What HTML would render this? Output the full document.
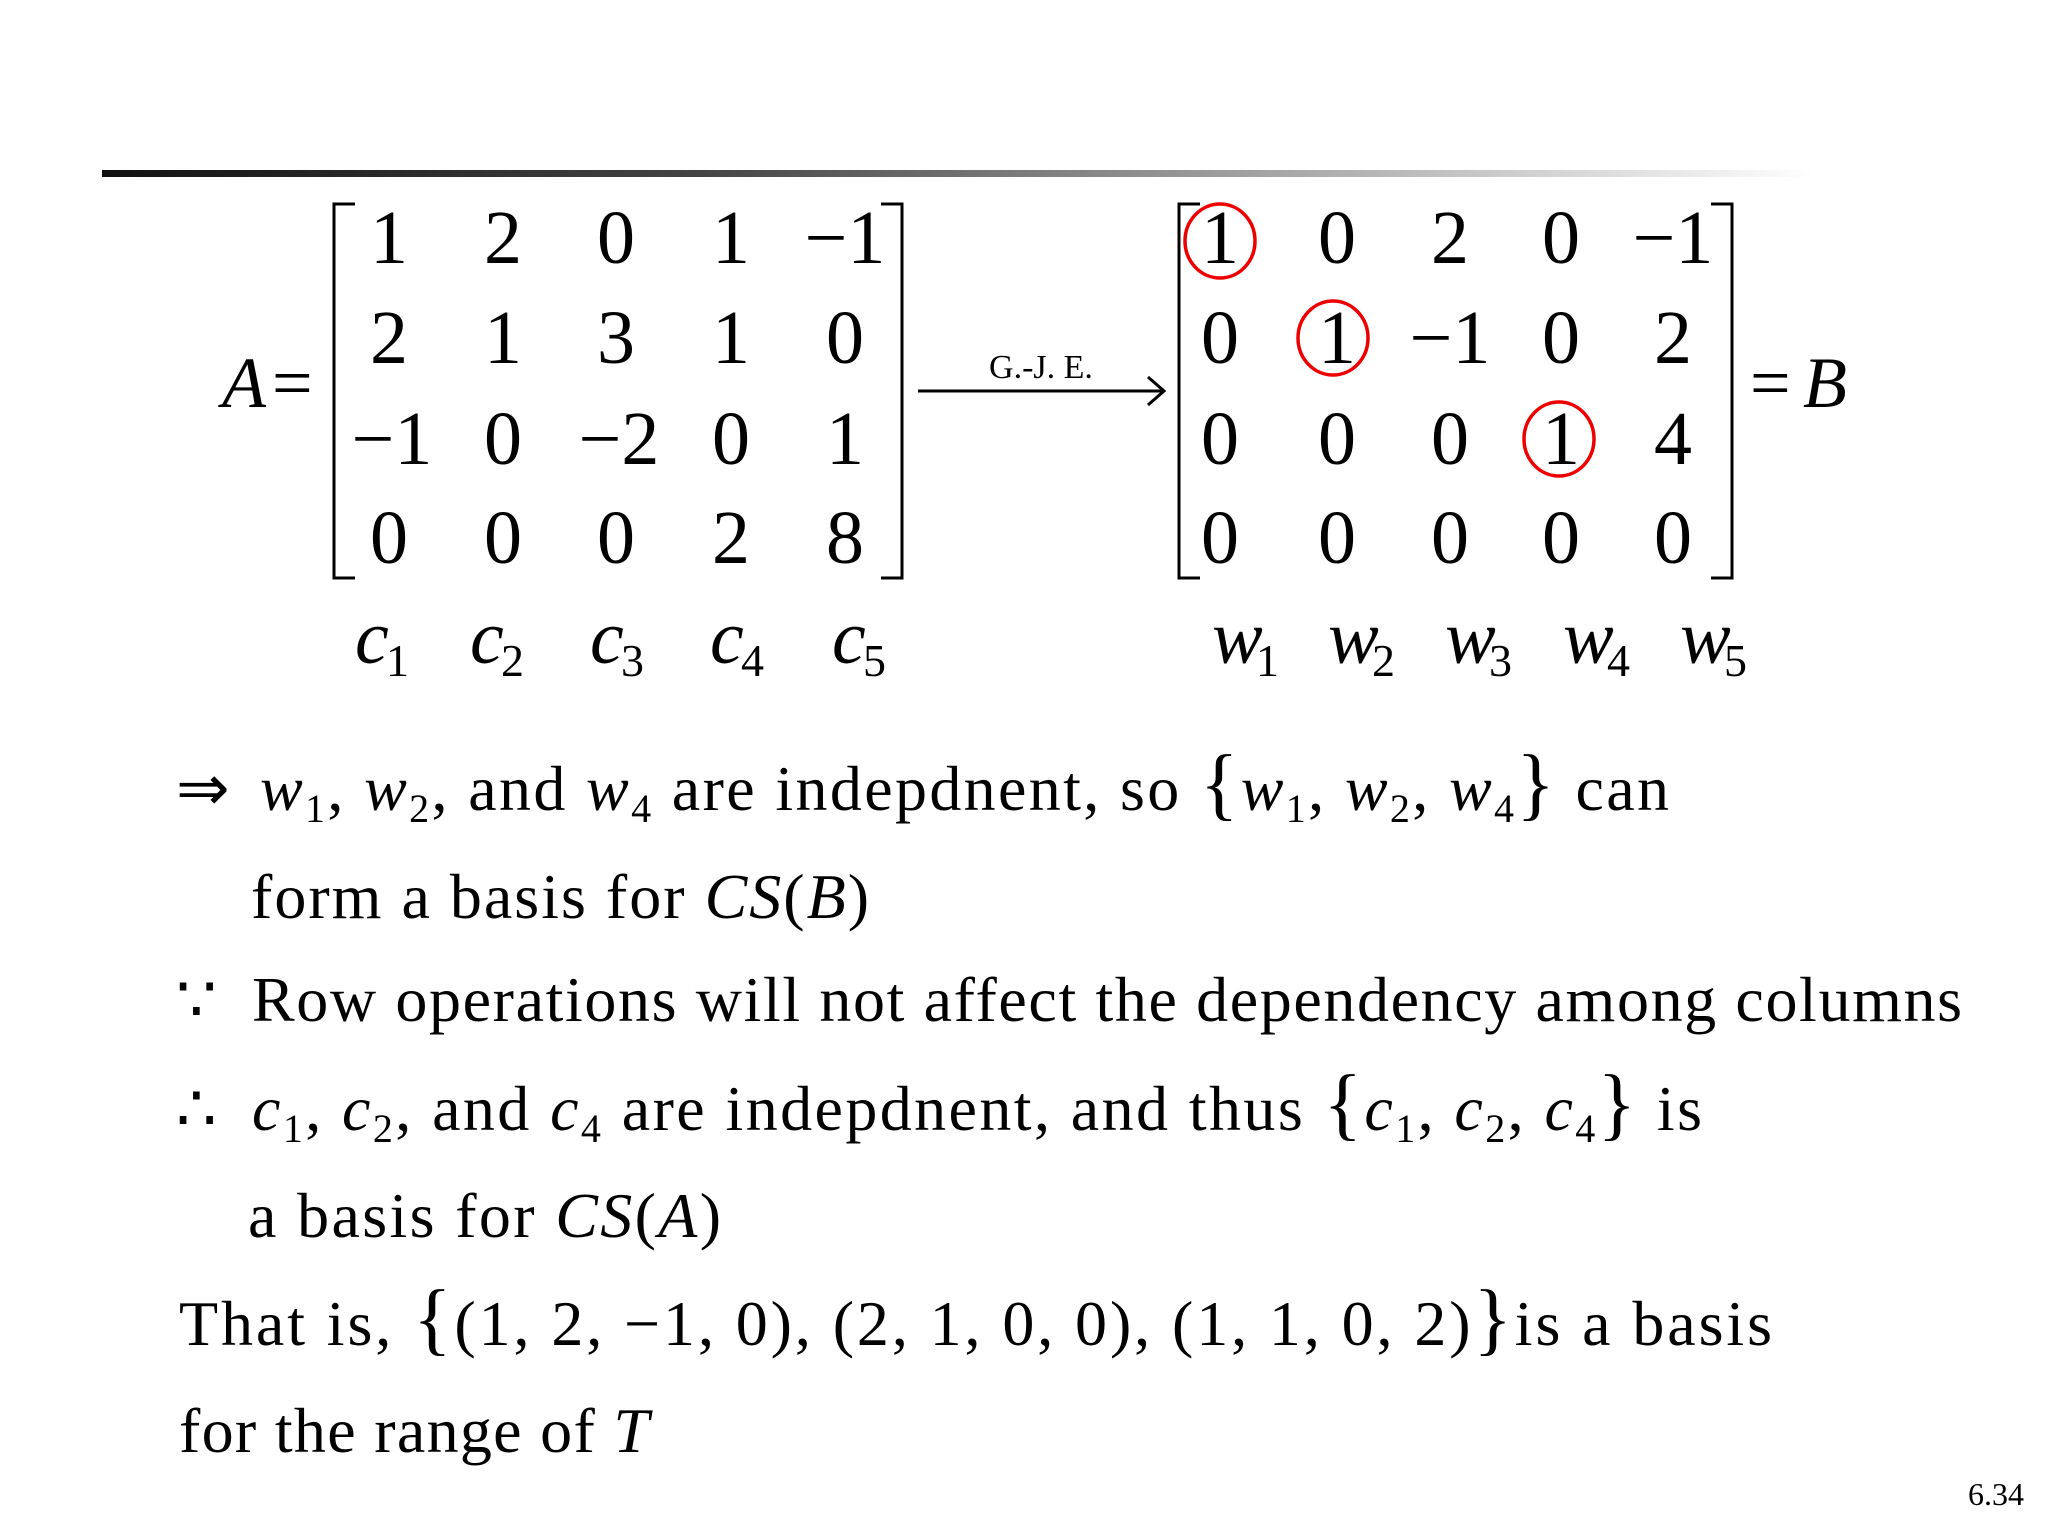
<!DOCTYPE html>
<html><head><meta charset="utf-8"><style>
html,body{margin:0;padding:0;background:#fff;}
svg{display:block;}
text{font-family:"Liberation Serif","Times New Roman",serif;fill:#000;}
.i{font-style:italic;}
</style></head><body>
<svg width="2048" height="1536" viewBox="0 0 2048 1536" xmlns="http://www.w3.org/2000/svg" font-family="Liberation Serif, Times New Roman, serif">
<defs>
<linearGradient id="g" x1="0" x2="1" y1="0" y2="0">
<stop offset="0" stop-color="#111"/><stop offset="0.35" stop-color="#444"/><stop offset="0.7" stop-color="#aaa"/><stop offset="1" stop-color="#fff"/>
</linearGradient>
</defs>
<rect x="102" y="170" width="1713" height="7" fill="url(#g)"/>

<text x="222" y="407" font-size="72" class="i">A</text>
<text x="272" y="407" font-size="72">=</text>
<path d="M355 204 H334 V578 H355" fill="none" stroke="#000" stroke-width="3"/>
<path d="M881 204 H902 V578 H881" fill="none" stroke="#000" stroke-width="3"/>
<g font-size="76" text-anchor="middle">
<text x="389" y="263">1</text><text x="503" y="263">2</text><text x="616" y="263">0</text><text x="731" y="263">1</text><text x="845" y="263">−1</text>
<text x="389" y="363">2</text><text x="503" y="363">1</text><text x="616" y="363">3</text><text x="731" y="363">1</text><text x="845" y="363">0</text>
<text x="392" y="464">−1</text><text x="503" y="464">0</text><text x="619" y="464">−2</text><text x="731" y="464">0</text><text x="845" y="464">1</text>
<text x="389" y="563">0</text><text x="503" y="563">0</text><text x="616" y="563">0</text><text x="731" y="563">2</text><text x="845" y="563">8</text>
</g>
<g font-size="76">
<text x="355" y="663" class="i">c</text><text x="386" y="676" font-size="46">1</text>
<text x="470" y="663" class="i">c</text><text x="501" y="676" font-size="46">2</text>
<text x="590" y="663" class="i">c</text><text x="621" y="676" font-size="46">3</text>
<text x="710" y="663" class="i">c</text><text x="741" y="676" font-size="46">4</text>
<text x="832" y="663" class="i">c</text><text x="863" y="676" font-size="46">5</text>
</g>

<line x1="918" y1="391" x2="1162" y2="391" stroke="#000" stroke-width="3"/>
<path d="M1148 377 L1164 391 L1148 405" fill="none" stroke="#000" stroke-width="3"/>
<text x="1041" y="378" font-size="34" text-anchor="middle">G.-J. E.</text>

<path d="M1200 204 H1179 V578 H1200" fill="none" stroke="#000" stroke-width="3"/>
<path d="M1711 204 H1732 V578 H1711" fill="none" stroke="#000" stroke-width="3"/>
<g font-size="76" text-anchor="middle">
<text x="1220" y="263">1</text><text x="1337" y="263">0</text><text x="1450" y="263">2</text><text x="1561" y="263">0</text><text x="1673" y="263">−1</text>
<text x="1220" y="363">0</text><text x="1337" y="363">1</text><text x="1450" y="363">−1</text><text x="1561" y="363">0</text><text x="1673" y="363">2</text>
<text x="1220" y="464">0</text><text x="1337" y="464">0</text><text x="1450" y="464">0</text><text x="1561" y="464">1</text><text x="1673" y="464">4</text>
<text x="1220" y="563">0</text><text x="1337" y="563">0</text><text x="1450" y="563">0</text><text x="1561" y="563">0</text><text x="1673" y="563">0</text>
</g>
<g fill="none" stroke="#e00" stroke-width="3.5">
<ellipse cx="1220" cy="241" rx="35" ry="37"/>
<ellipse cx="1333" cy="338" rx="35" ry="37"/>
<ellipse cx="1559" cy="439" rx="35" ry="37"/>
</g>
<text x="1750" y="407" font-size="72">=</text>
<text x="1803" y="407" font-size="72" class="i">B</text>
<g font-size="76">
<text x="1212" y="663" class="i">w</text><text x="1256" y="676" font-size="46">1</text>
<text x="1328" y="663" class="i">w</text><text x="1372" y="676" font-size="46">2</text>
<text x="1445" y="663" class="i">w</text><text x="1489" y="676" font-size="46">3</text>
<text x="1563" y="663" class="i">w</text><text x="1607" y="676" font-size="46">4</text>
<text x="1680" y="663" class="i">w</text><text x="1724" y="676" font-size="46">5</text>
</g>

<g font-size="64">
<text x="176" y="810">⇒</text>
<text x="260" y="810" textLength="1409" lengthAdjust="spacing"><tspan class="i">w</tspan><tspan font-size="40" dy="12">1</tspan><tspan dy="-12">, </tspan><tspan class="i">w</tspan><tspan font-size="40" dy="12">2</tspan><tspan dy="-12">, and </tspan><tspan class="i">w</tspan><tspan font-size="40" dy="12">4</tspan><tspan dy="-12"> are indepdnent, so </tspan><tspan font-size="80">{</tspan><tspan class="i">w</tspan><tspan font-size="40" dy="12">1</tspan><tspan dy="-12">, </tspan><tspan class="i">w</tspan><tspan font-size="40" dy="12">2</tspan><tspan dy="-12">, </tspan><tspan class="i">w</tspan><tspan font-size="40" dy="12">4</tspan><tspan dy="-12" font-size="80">}</tspan><tspan> can</tspan></text>
<text x="251" y="918" textLength="618" lengthAdjust="spacing">form a basis for <tspan class="i">CS</tspan>(<tspan class="i">B</tspan>)</text>
<text x="176" y="1021">∵</text>
<text x="252" y="1021" textLength="1710" lengthAdjust="spacing">Row operations will not affect the dependency among columns</text>
<text x="176" y="1130">∴</text>
<text x="252" y="1130" textLength="1450" lengthAdjust="spacing"><tspan class="i">c</tspan><tspan font-size="40" dy="12">1</tspan><tspan dy="-12">, </tspan><tspan class="i">c</tspan><tspan font-size="40" dy="12">2</tspan><tspan dy="-12">, and </tspan><tspan class="i">c</tspan><tspan font-size="40" dy="12">4</tspan><tspan dy="-12"> are indepdnent, and thus </tspan><tspan font-size="80">{</tspan><tspan class="i">c</tspan><tspan font-size="40" dy="12">1</tspan><tspan dy="-12">, </tspan><tspan class="i">c</tspan><tspan font-size="40" dy="12">2</tspan><tspan dy="-12">, </tspan><tspan class="i">c</tspan><tspan font-size="40" dy="12">4</tspan><tspan dy="-12" font-size="80">}</tspan><tspan> is</tspan></text>
<text x="248" y="1237" textLength="473" lengthAdjust="spacing">a basis for <tspan class="i">CS</tspan>(<tspan class="i">A</tspan>)</text>
<text x="179" y="1345" textLength="1593" lengthAdjust="spacing">That is, <tspan font-size="80">{</tspan>(1,  2,  −1,  0),  (2,  1,  0,  0),  (1,  1,  0,  2)<tspan font-size="80">}</tspan>is a basis</text>
<text x="179" y="1452" textLength="470" lengthAdjust="spacing">for the range of <tspan class="i">T</tspan></text>
</g>
<text x="2024" y="1505" font-size="32" text-anchor="end">6.34</text>
</svg>
</body></html>
